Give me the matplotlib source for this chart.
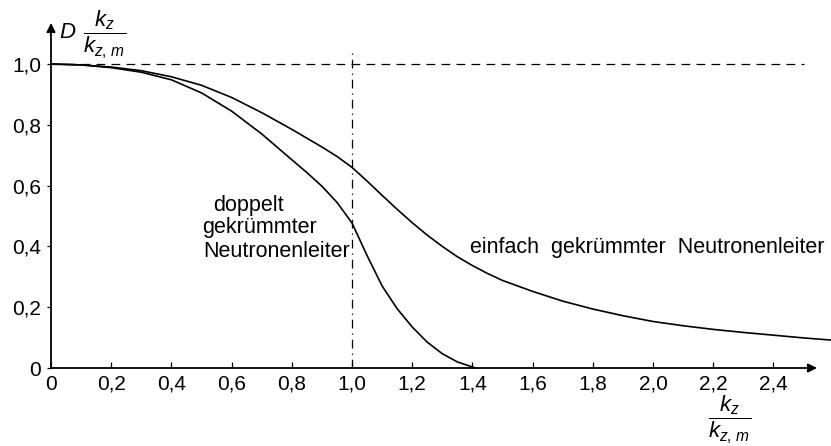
import matplotlib.pyplot as plt

plt.rcParams['font.family'] = ['Liberation Sans', 'DejaVu Sans']
plt.rcParams['mathtext.fontset'] = 'custom'
plt.rcParams['mathtext.rm'] = 'Liberation Sans'
plt.rcParams['mathtext.it'] = 'Liberation Sans:italic'

# einfach gekruemmter Neutronenleiter
x_einfach = [0, 0.1, 0.2, 0.3, 0.4, 0.5, 0.6, 0.7, 0.8, 0.9, 0.95, 1.0, 1.05, 1.1, 1.15,
             1.2, 1.25, 1.3, 1.35, 1.4, 1.45, 1.5, 1.6, 1.7, 1.8, 1.9, 2.0, 2.1, 2.2,
             2.3, 2.4, 2.5, 2.59]
d_einfach = [1.0, 0.997, 0.99, 0.978, 0.958, 0.93, 0.89, 0.84, 0.785, 0.727, 0.696, 0.66,
             0.615, 0.568, 0.522, 0.478, 0.437, 0.400, 0.366, 0.337, 0.311, 0.288, 0.252,
             0.220, 0.194, 0.172, 0.153, 0.139, 0.127, 0.117, 0.108, 0.099, 0.092]

# doppelt gekruemmter Neutronenleiter
x_doppelt = [0, 0.1, 0.2, 0.3, 0.4, 0.5, 0.6, 0.7, 0.8, 0.85, 0.9, 0.95, 1.0, 1.05, 1.1,
             1.15, 1.2, 1.25, 1.3, 1.35, 1.41]
d_doppelt = [1.0, 0.997, 0.988, 0.973, 0.948, 0.905, 0.845, 0.77, 0.685, 0.643, 0.598,
             0.545, 0.477, 0.37, 0.27, 0.195, 0.135, 0.085, 0.047, 0.02, 0.0]

x_ticks = [0, 0.2, 0.4, 0.6, 0.8, 1.0, 1.2, 1.4, 1.6, 1.8, 2.0, 2.2, 2.4]
x_tick_labels = ["0", "0,2", "0,4", "0,6", "0,8", "1,0", "1,2", "1,4", "1,6", "1,8",
                 "2,0", "2,2", "2,4"]
y_ticks = [0, 0.2, 0.4, 0.6, 0.8, 1.0]
y_tick_labels = ["0", "0,2", "0,4", "0,6", "0,8", "1,0"]

ref_y = 1.0
ref_x = 1.0

fig = plt.figure(figsize=(8.31, 4.46), dpi=100)
ax = fig.add_axes([51 / 831, 78 / 446, 2.59 * 301 / 831, 1.15 * 304 / 446])
ax.set_xlim(0, 2.59)
ax.set_ylim(0, 1.15)

for s in ax.spines.values():
    s.set_visible(False)

ax.hlines(ref_y, 0, 2.5, colors='black', linewidth=0.9, linestyles=(0, (7, 5)))
ax.vlines(ref_x, 0, 1.035, colors='black', linewidth=0.9, linestyles=(0, (7, 4, 1, 4)))

ax.plot(x_einfach, d_einfach, color='black', linewidth=1.2, clip_on=False)
ax.plot(x_doppelt, d_doppelt, color='black', linewidth=1.2, clip_on=False)

arrow = dict(arrowstyle='-|>', color='black', lw=1.3, mutation_scale=13, shrinkA=0, shrinkB=0)
ax.annotate('', xy=(2.545, 0), xytext=(0, 0), arrowprops=arrow, annotation_clip=False)
ax.annotate('', xy=(0, 1.135), xytext=(0, 0), arrowprops=arrow, annotation_clip=False)

ax.set_xticks(x_ticks)
ax.set_xticklabels(x_tick_labels, fontsize=15)
ax.set_yticks(y_ticks)
ax.set_yticklabels(y_tick_labels, fontsize=15)
ax.tick_params(axis='x', direction='in', length=4, width=0.9, pad=5)
ax.tick_params(axis='y', direction='out', length=3, width=0.9, pad=4)

ax.text(0.538, 0.536, "doppelt", fontsize=15.5, ha='left', va='center')
ax.text(0.502, 0.461, "gekrümmter", fontsize=15.5, ha='left', va='center')
ax.text(0.505, 0.382, "Neutronenleiter", fontsize=15.5, ha='left', va='center')
ax.text(1.392, 0.398, "einfach  gekrümmter  Neutronenleiter", fontsize=15.5, ha='left', va='center')

ax.text(0.025, 1.105, r'$D$', fontsize=16, ha='left', va='center')
ax.text(0.18, 1.095, r'$\dfrac{k_z}{k_{z,\,m}}$', fontsize=16, ha='center', va='center')
ax.text(2.256, -0.172, r'$\dfrac{k_z}{k_{z,\,m}}$', fontsize=16, ha='center', va='center')

plt.savefig("out.png", dpi=100)
